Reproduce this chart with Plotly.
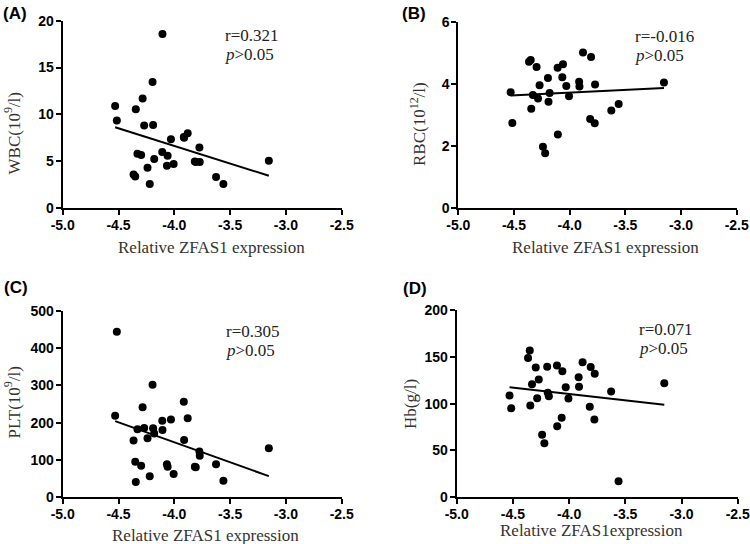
import numpy as np
import plotly.graph_objects as go

# Shared x values (relative ZFAS1 expression), one per patient
zfas1 = [-4.530, -4.515, -4.365, -4.350, -4.345, -4.330, -4.297, -4.284, -4.270, -4.240,
         -4.220, -4.195, -4.190, -4.180, -4.108, -4.106, -4.066, -4.060, -4.030, -4.006,
         -3.915, -3.912, -3.880, -3.816, -3.808, -3.775, -3.772, -3.626, -3.560, -3.153]

wbc = [10.9, 9.34, 3.59, 3.37, 10.55, 5.79, 5.65, 11.69, 8.81, 4.30,
       2.56, 13.46, 8.85, 5.22, 5.97, 18.58, 4.51, 5.58, 7.35, 4.69,
       7.57, 7.50, 7.99, 4.97, 4.90, 6.47, 4.90, 3.30, 2.56, 5.04]

rbc = [3.73, 2.74, 4.71, 4.77, 3.20, 3.64, 4.54, 3.53, 3.95, 1.97,
       1.76, 4.19, 3.42, 3.70, 4.52, 2.37, 4.21, 4.63, 3.93, 3.60,
       4.07, 3.91, 5.01, 2.87, 4.86, 2.73, 3.98, 3.14, 3.35, 4.04]

plt_ = [218.6, 444.4, 152, 95, 40, 182, 84, 241, 185.5, 158,
        56, 302, 184.6, 171, 205, 180, 88, 81, 208, 62,
        256, 153, 212, 81, 80, 122, 111, 88, 44, 131]

hb = [108.6, 95, 149, 157, 98, 120.7, 138.6, 105.7, 126, 66.8,
      57.5, 139.6, 111.8, 107.9, 141, 75.7, 85, 134.6, 117.5, 105.4,
      128.2, 118.2, 144.3, 96.8, 139.3, 82.9, 132, 112.9, 16.8, 121.8]

panel_labels = ["(A)", "(B)", "(C)", "(D)"]
y_titles = ["WBC(10<sup>9</sup>/l)", "RBC(10<sup>12</sup>/l)", "PLT(10<sup>9</sup>/l)", "Hb(g/l)"]
x_titles = ["Relative ZFAS1 expression", "Relative ZFAS1 expression",
            "Relative ZFAS1 expression", "Relative ZFAS1expression"]
r_texts = ["r=0.321", "r=-0.016", "r=0.305", "r=0.071"]
y_ranges = [(0, 20), (0, 6), (0, 500), (0, 200)]
y_dticks = [5, 2, 100, 50]
x_ticks = [-5.0, -4.5, -4.0, -3.5, -3.0, -2.5]

W, H = 750, 544
# window-pixel boxes of plotting areas: (left, right, top, bottom)
boxes = [(62.7, 341.7, 20.7, 208), (458.3, 736.7, 21.7, 208),
         (62.7, 341.7, 311, 497), (456.7, 737.7, 310.3, 497)]
ytitle_pos = [(12.5, 134), (418, 124), (12.5, 403), (410, 404)]
xtitle_pos = [(211.7, 247), (605.5, 247), (205, 535), (591.7, 530)]
label_pos = [(15, 13.5), (414, 13.5), (16, 287), (415, 288)]
rtext_pos = [(223, 35, 55), (633, 36.5, 56), (224, 331, 350), (636.7, 329.5, 348.7)]


def px(x):
    return x / W


def py(y):
    return 1 - y / H


series = [wbc, rbc, plt_, hb]

fig = go.Figure()
annotations = []
serif = "Liberation Serif, Times New Roman, serif"
sans = "Liberation Sans, Arial, sans-serif"

for i, ys in enumerate(series):
    n = i + 1
    xa = "x" if n == 1 else f"x{n}"
    ya = "y" if n == 1 else f"y{n}"
    fig.add_trace(go.Scatter(x=zfas1, y=ys, mode="markers", xaxis=xa, yaxis=ya,
                             marker=dict(color="black", size=8), showlegend=False,
                             hoverinfo="x+y"))
    slope, intercept = np.polyfit(zfas1, ys, 1)
    xl = [min(zfas1), max(zfas1)]
    yl = [slope * v + intercept for v in xl]
    fig.add_trace(go.Scatter(x=xl, y=yl, mode="lines", xaxis=xa, yaxis=ya,
                             line=dict(color="black", width=2), showlegend=False,
                             hoverinfo="skip"))
    l, r, t, b = boxes[i]
    axis_common = dict(showline=True, linecolor="black", linewidth=2, ticks="outside",
                       ticklen=5, tickwidth=2, tickcolor="black", showgrid=False,
                       zeroline=False, automargin=False,
                       tickfont=dict(family=sans, size=14, color="black", weight="bold"))
    fig.update_layout(**{
        ("xaxis" if n == 1 else f"xaxis{n}"): dict(
            domain=[px(l), px(r)], anchor=ya, range=[-5.0, -2.5], tickmode="array",
            tickvals=x_ticks, ticktext=[f"{v:.1f}" for v in x_ticks],
            ticklabelstandoff=-2, **axis_common),
        ("yaxis" if n == 1 else f"yaxis{n}"): dict(
            domain=[py(b), py(t)], anchor=xa, range=list(y_ranges[i]),
            dtick=y_dticks[i], tick0=0, ticklabelstandoff=-1, **axis_common),
    })
    tx, ty = ytitle_pos[i]
    annotations.append(dict(text=y_titles[i], x=px(tx), y=py(ty), xref="paper", yref="paper",
                            showarrow=False, textangle=-90, xanchor="center", yanchor="middle",
                            font=dict(family=serif, size=17, color="#333")))
    tx, ty = xtitle_pos[i]
    annotations.append(dict(text=x_titles[i], x=px(tx), y=py(ty), xref="paper", yref="paper",
                            showarrow=False, xanchor="center", yanchor="middle",
                            font=dict(family=serif, size=17, color="#333")))
    tx, ty = label_pos[i]
    annotations.append(dict(text=panel_labels[i], x=px(tx), y=py(ty), xref="paper", yref="paper",
                            showarrow=False, xanchor="center", yanchor="middle",
                            font=dict(family=sans, size=17, color="black", weight="bold")))
    tx, ty1, ty2 = rtext_pos[i]
    annotations.append(dict(text=r_texts[i], x=px(tx), y=py(ty1), xref="paper", yref="paper",
                            showarrow=False, xanchor="left", yanchor="middle",
                            font=dict(family=serif, size=17, color="#222")))
    annotations.append(dict(text="<i>p</i>>0.05", x=px(tx), y=py(ty2), xref="paper", yref="paper",
                            showarrow=False, xanchor="left", yanchor="middle",
                            font=dict(family=serif, size=17, color="#222")))

fig.update_layout(template="none", width=W, height=H, margin=dict(l=0, r=0, t=0, b=0),
                  plot_bgcolor="white", paper_bgcolor="white", annotations=annotations)
fig.write_html("out.html", config={"displayModeBar": False},
               post_script="document.body.style.margin='0';document.body.style.overflow='hidden';")
